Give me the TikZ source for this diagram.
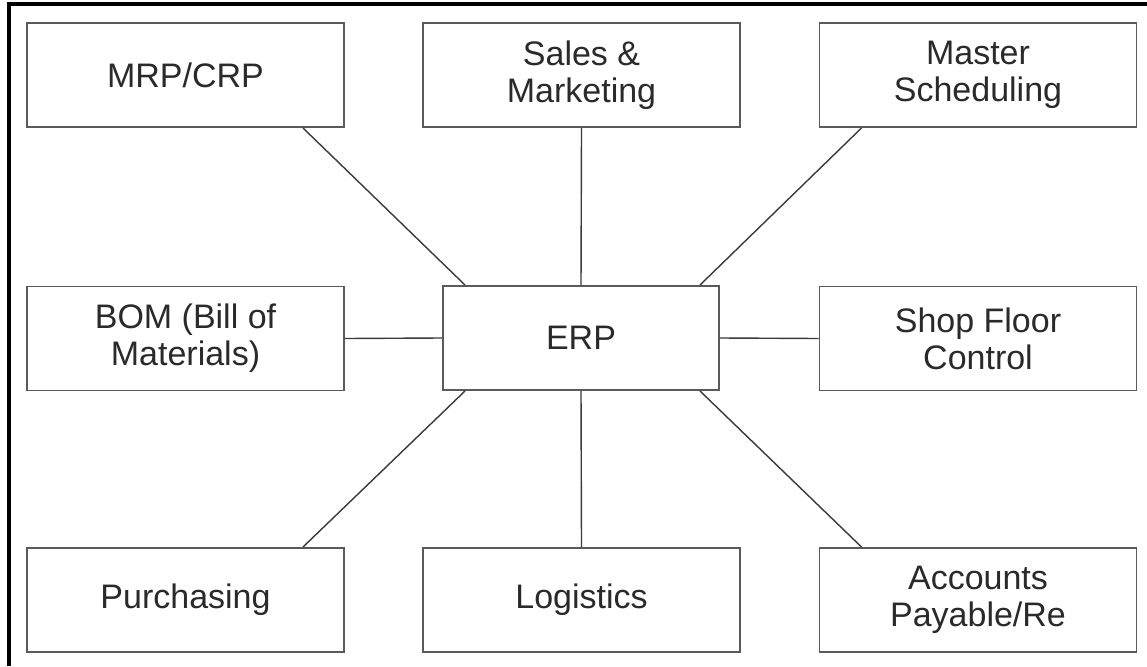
\documentclass[tikz,border=0pt]{standalone}
\usepackage{fontspec}
\setmainfont{Liberation Sans}
\definecolor{boxline}{HTML}{5A5A5A}
\definecolor{connline}{HTML}{3A3A3A}
\definecolor{txt}{HTML}{2A2A2A}
\begin{document}
\begin{tikzpicture}[x=1pt,y=-1pt,
  modbox/.style={draw=boxline, line width=1.8pt, rectangle, minimum width=317pt, minimum height=104pt,
    inner sep=0pt, align=center, text=txt, font=\fontsize{34}{37}\selectfont},
  hubbox/.style={modbox, minimum width=276pt},
  conn/.style={draw=connline, line width=1.4pt}]
\useasboundingbox (0,0) rectangle (1147,666);
\fill[white] (0,0) rectangle (1147,666);
% frame
\draw[black, line width=4pt] (7,4.5) -- (1147,4.5);
\draw[black, line width=3.5pt] (9,2.5) -- (9,666);
% nodes
\node[modbox] (mrp) at (185.5,75) {MRP/CRP};
\node[modbox] (sales) at (581.5,75) {Sales \&\\Marketing};
\node[modbox] (master) at (978,75) {Master\\Scheduling};
\node[modbox] (bom) at (185.5,338.5) {BOM (Bill of\\Materials)};
\node[hubbox] (erp) at (581,338) {ERP};
\node[modbox] (shop) at (978,338.5) {Shop Floor\\Control};
\node[modbox] (purch) at (185.5,600) {Purchasing};
\node[modbox] (log) at (581.5,600) {Logistics};
\node[modbox] (acc) at (978,600) {Accounts\\Payable/Re};
% connectors
\draw[conn] ([xshift=-42pt]mrp.south east) -- ([xshift=23pt]erp.north west);
\draw[conn] (sales.south) -- (erp.north);
\draw[conn] ([xshift=43pt]master.south west) -- ([xshift=-20pt]erp.north east);
\draw[conn] (bom.east) -- (erp.west);
\draw[conn] (shop.west) -- (erp.east);
\draw[conn] ([xshift=-42pt]purch.north east) -- ([xshift=23pt]erp.south west);
\draw[conn] (log.north) -- (erp.south);
\draw[conn] ([xshift=43pt]acc.north west) -- ([xshift=-20pt]erp.south east);
\end{tikzpicture}
\end{document}
